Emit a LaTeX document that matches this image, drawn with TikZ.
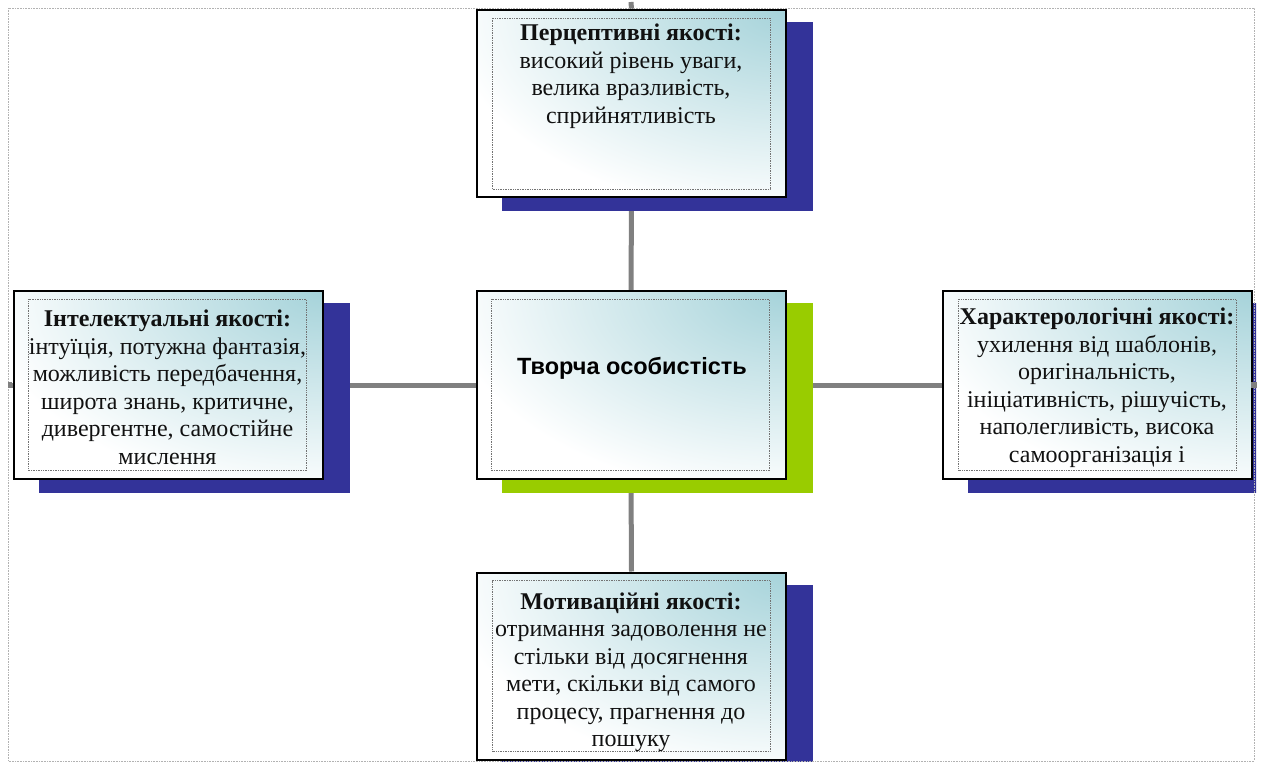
\documentclass[tikz,border=0pt]{standalone}
\usepackage{fontspec}
\setmainfont{Liberation Serif}
\newfontfamily\sansbold{Liberation Sans}
\usetikzlibrary{backgrounds}
\definecolor{shblue}{HTML}{333399}
\definecolor{shgreen}{HTML}{99CC00}
\definecolor{boxteal}{HTML}{A6D3DA}
\definecolor{conn}{HTML}{808080}
\definecolor{txtc}{HTML}{111111}
\tikzset{
  qbox/.style={draw=black, line width=2pt, minimum width=309pt, minimum height=187pt,
    inner sep=0pt, fill=white,
    path picture={\shade[inner color=boxteal, outer color=white]
      (path picture bounding box.north east) ellipse (340pt and 205pt);}},
  innerdot/.style={draw=black!55, densely dotted, line width=0.7pt},
  bluesh/.style={fill=shblue},
  greensh/.style={fill=shgreen},
  connline/.style={draw=conn, line width=5pt},
  qtxt/.style={align=center, inner sep=0pt, text=txtc, font=\fontsize{24}{27.5}\selectfont},
  ctxt/.style={align=center, inner sep=0pt, text=black, font=\sansbold\bfseries\fontsize{23.5}{26}\selectfont},
  frameline/.style={draw=black!30, densely dotted, line width=0.6pt},
  handle/.style={fill=conn}
}
\begin{document}
\begin{tikzpicture}[x=1pt,y=-1pt]
\useasboundingbox (0,0) rectangle (1262,762);
% frame
\draw[frameline] (8,8) rectangle (1254,761);
% boxes
\node[qbox] (top) at (631.5,103.5) {};
\node[qbox] (mid) at (631,385) {};
\node[qbox] (left) at (168,385) {};
\node[qbox] (right) at (1097.5,385) {};
\node[qbox] (bot) at (631.5,666) {};
\coordinate (ftop) at (631,2);
\coordinate (fbot) at (631,762);
\coordinate (fleft) at (8,385);
\coordinate (fright) at (1258,385);
\begin{scope}[on background layer]
  % connectors
  \draw[connline] (ftop) -- (top.north);
  \draw[connline] (top.south) -- (mid.north);
  \draw[connline] (mid.south) -- (bot.north);
  \draw[connline] (bot.south) -- (fbot);
  \draw[connline] (fleft) -- (left.west);
  \draw[connline] (left.east) -- (mid.west);
  \draw[connline] (mid.east) -- (right.west);
  % shadows
  \begin{scope}
    \clip (0,0) rectangle (1256,762);
    \foreach \b/\s in {top/bluesh, left/bluesh, right/bluesh, bot/bluesh, mid/greensh}{
      \path[\s] ([xshift=26pt,yshift=-13pt]\b.north west) rectangle ([xshift=26pt,yshift=-13pt]\b.south east);
    }
  \end{scope}
\end{scope}
% edge handles
\path[handle] (1251,382) rectangle (1257,388);
\path[handle] (fleft) ++(0,-3) rectangle ++(4,6);
% inner dotted frames
\foreach \b in {top,mid,left,right,bot}{
  \draw[innerdot] ([xshift=16pt,yshift=-9pt]\b.north west) rectangle ([xshift=-17pt,yshift=9pt]\b.south east);
}
% texts
\node[qtxt] (ttop) at (631,76) {\textbf{Перцептивні якості:}\\високий рівень уваги,\\велика вразливість,\\сприйнятливість};
\node[ctxt] (tmid) at (632,368) {Творча особистість};
\node[qtxt] (tleft) at (167.5,387.5) {\textbf{Інтелектуальні якості:}\\інтуїція, потужна фантазія,\\можливість передбачення,\\широта знань, критичне,\\дивергентне, самостійне\\мислення};
\node[qtxt] (tright) at (1097,387.5) {\textbf{Характерологічні якості:}\\ухилення від шаблонів,\\оригінальність,\\ініціативність, рішучість,\\наполегливість, висока\\самоорганізація і};
\node[qtxt] (tbot) at (631,672.5) {\textbf{Мотиваційні якості:}\\отримання задоволення не\\стільки від досягнення\\мети, скільки від самого\\процесу, прагнення до\\пошуку};
\end{tikzpicture}
\end{document}
